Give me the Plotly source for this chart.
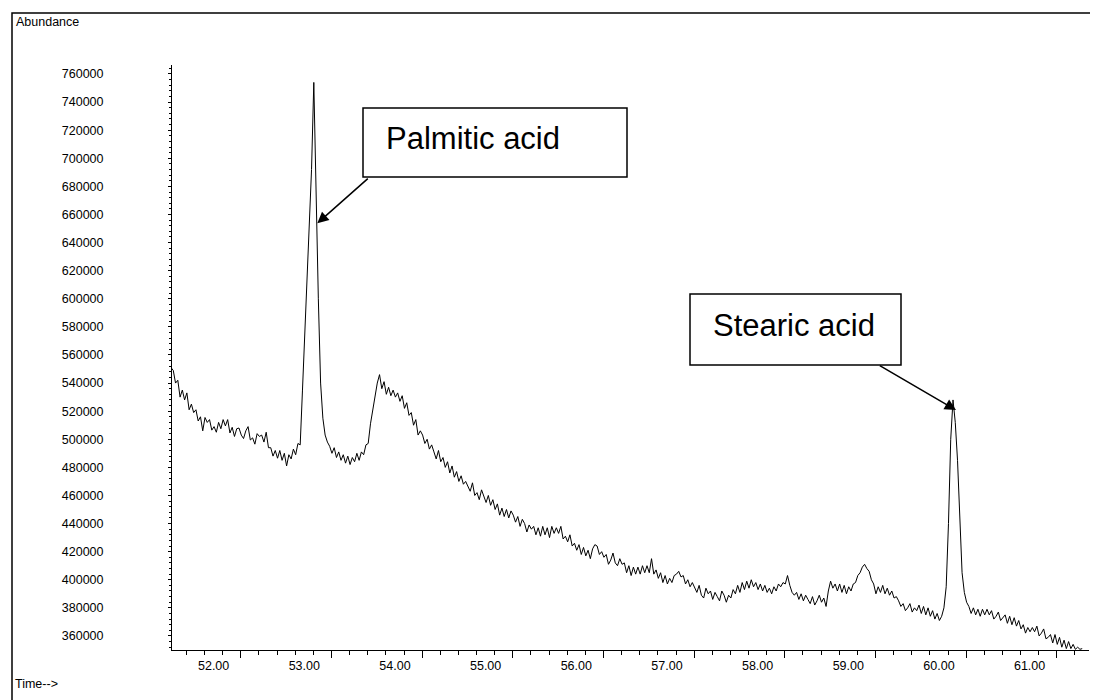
import numpy as np
import plotly.graph_objects as go

# ---------------- data ----------------
scan_start = 51.530      # min
scan_interval = 0.025    # min
abundance = [
    551000, 549000, 540000, 542000, 530000, 535000, 528000, 533000, 521000, 525000,
    519000, 521000, 513000, 516000, 506000, 515500, 512000, 514000, 506500, 509000,
    505000, 512000, 507500, 514000, 509500, 514000, 504500, 508500, 502000, 507500,
    508000, 503000, 500500, 506000, 509000, 499500, 501000, 496500, 504000, 502000,
    503000, 498000, 505000, 494000, 494000, 488000, 492000, 486500, 492000, 485000,
    490000, 481000, 489000, 486000, 493000, 489000, 497000, 496000, 535000, 577000,
    618000, 655000, 692000, 754000, 672000, 600000, 540000, 515000, 503000, 498000,
    495000, 490000, 494000, 487000, 491000, 485000, 489000, 483000, 488000, 482000,
    487000, 484000, 490000, 485000, 491000, 489000, 496000, 497000, 511000, 521000,
    528000, 540000, 546000, 536000, 541000, 532000, 537000, 531000, 535000, 530000,
    533000, 527000, 531000, 522000, 526000, 517000, 519000, 510000, 514000, 503000,
    506000, 503000, 497000, 500000, 493000, 496000, 491000, 486000, 492000, 484000,
    487000, 480000, 484000, 476000, 481000, 473000, 477000, 470000, 474000, 468000,
    470000, 466000, 463000, 469000, 460000, 462000, 457000, 464000, 459000, 455000,
    460000, 453000, 457000, 450000, 454000, 446000, 451000, 445000, 450000, 444000,
    449000, 446000, 441000, 445000, 438000, 443000, 440000, 434000, 439000, 436000,
    438000, 432000, 437000, 431000, 438000, 432000, 437000, 430000, 438000, 433000,
    437000, 433000, 438000, 429000, 431000, 427000, 432000, 424000, 426000, 421000,
    425000, 418000, 423000, 417000, 421000, 415000, 422000, 425000, 424000, 418000,
    420000, 416000, 418000, 411000, 414000, 419000, 412000, 410000, 415000, 411000,
    412000, 405000, 410000, 403000, 409000, 404000, 409000, 404000, 410000, 405000,
    410000, 405000, 415000, 404000, 407000, 401000, 405000, 398000, 403000, 397000,
    401000, 398000, 403000, 404000, 406000, 402000, 403000, 397000, 400000, 395000,
    398000, 395000, 391000, 396000, 389000, 387000, 394000, 390000, 392000, 386000,
    391000, 388000, 385000, 392000, 389000, 384000, 389000, 387000, 393000, 390000,
    396000, 391000, 398000, 393000, 399000, 394000, 400000, 395000, 398000, 393000,
    397000, 392000, 396000, 391000, 394000, 390000, 395000, 392000, 397000, 395000,
    398000, 397000, 403000, 396000, 391000, 389000, 391000, 386000, 390000, 385000,
    389000, 386000, 383000, 388000, 382000, 385000, 389000, 384000, 387000, 381000,
    392000, 399000, 394000, 397000, 392000, 397000, 391000, 396000, 390000, 395000,
    392000, 397000, 398000, 403000, 405000, 409000, 411000, 408000, 406000, 400000,
    397000, 390000, 395000, 391000, 396000, 390000, 394000, 389000, 392000, 387000,
    388000, 385000, 381000, 383000, 378000, 380000, 383000, 377000, 380000, 378000,
    382000, 376000, 381000, 375000, 380000, 374000, 378000, 372000, 376000, 371000,
    374000, 380000, 395000, 440000, 500000, 528000, 512000, 485000, 440000, 405000,
    391000, 384000, 381000, 376000, 380000, 375000, 379000, 374000, 379000, 375000,
    379000, 375000, 378000, 372000, 374000, 377000, 371000, 373000, 375000, 369000,
    374000, 368000, 373000, 367000, 371000, 365000, 368000, 362000, 366000, 363000,
    366000, 363000, 367000, 360000, 362000, 365000, 358000, 359000, 361000, 355000,
    361000, 354000, 359000, 352000, 357000, 351000, 356000, 351000, 354000, 350500,
    352000, 350500, 351000,
]
time_min = np.round(scan_start + scan_interval * np.arange(len(abundance)), 3)

x_labels = [52, 53, 54, 55, 56, 57, 58, 59, 60, 61]
y_labels = list(range(360000, 760001, 20000))

# ---------------- layout geometry ----------------
# the page body adds an 8 px margin, so the figure is 8 px smaller and all
# target screen positions are shifted by -8 px
OFF = 8
W, H = 1098 - OFF, 700 - OFF
L, R, T, B = 172 - OFF, 9, 65 - OFF, 50
PW, PH = W - L - R, H - T - B
x_range = [51.541, 61.655]
y_range = [350000, 766400]

def px(x):
    """screen pixel x -> paper x"""
    return (x - OFF - L) / PW

def py(y):
    """screen pixel y -> paper y"""
    return (H - B - (y - OFF)) / PH

FONT = "Arial, Liberation Sans, Helvetica, sans-serif"

fig = go.Figure()
fig.add_trace(go.Scatter(x=time_min, y=abundance, mode="lines",
                         line=dict(color="black", width=1), hoverinfo="skip",
                         showlegend=False))
fig.add_trace(go.Scatter(x=[], y=[], xaxis="x2", showlegend=False))

minor_x = [v + d for v in range(51, 62) for d in (0.1, 0.5, 0.7, 0.9)]
major_x = [v + 0.3 for v in range(51, 62)]

fig.update_layout(
    width=W, height=H,
    margin=dict(l=L, r=R, t=T, b=B, pad=0),
    paper_bgcolor="white", plot_bgcolor="white",
    font=dict(family=FONT, size=12.5, color="black"),
    showlegend=False,
    xaxis=dict(range=x_range, showgrid=False, zeroline=False,
               showline=True, linecolor="black", linewidth=1,
               tickmode="array", tickvals=x_labels,
               ticktext=[f"{v:.2f}" for v in x_labels],
               ticks="", ticklabelstandoff=4,
               tickfont=dict(size=12.5, family=FONT),
               minor=dict(tickmode="array", tickvals=minor_x, ticks="outside",
                          ticklen=4, tickwidth=1, tickcolor="black")),
    xaxis2=dict(range=x_range, overlaying="x", anchor="y", side="bottom",
                showgrid=False, zeroline=False, showline=False,
                showticklabels=False, tickmode="array", tickvals=major_x,
                ticks="outside", ticklen=7, tickwidth=1, tickcolor="black"),
    yaxis=dict(range=y_range, showgrid=False, zeroline=False,
               showline=True, linecolor="black", linewidth=1,
               tickmode="array", tickvals=y_labels,
               ticktext=[str(v) for v in y_labels],
               ticks="outside", ticklen=3, tickwidth=1, tickcolor="black",
               ticklabelstandoff=62,
               tickfont=dict(size=12.5, family=FONT),
               minor=dict(dtick=4000, tick0=0, ticks="outside", ticklen=2,
                          tickwidth=1, tickcolor="black")),
)

shapes = [
    # outer frame
    dict(type="rect", xref="paper", yref="paper", x0=px(12), x1=px(1104),
         y0=py(706), y1=py(13), line=dict(color="black", width=1.5),
         fillcolor="rgba(0,0,0,0)", layer="above"),
    # label boxes
    dict(type="rect", xref="paper", yref="paper", x0=px(363), x1=px(627),
         y0=py(177), y1=py(108), line=dict(color="black", width=1.5),
         fillcolor="white", layer="above"),
    dict(type="rect", xref="paper", yref="paper", x0=px(690), x1=px(901),
         y0=py(365), y1=py(294), line=dict(color="black", width=1.5),
         fillcolor="white", layer="above"),
]
fig.update_layout(shapes=shapes)

ann = [
    dict(text="Abundance", x=px(14), y=py(22), xref="paper", yref="paper",
         xanchor="left", yanchor="middle", showarrow=False,
         font=dict(size=12.5, family=FONT)),
    dict(text="Time-->", x=px(13), y=py(684), xref="paper", yref="paper",
         xanchor="left", yanchor="middle", showarrow=False,
         font=dict(size=12.5, family=FONT)),
    dict(text="Palmitic acid", x=px(384), y=py(138), xref="paper", yref="paper",
         xanchor="left", yanchor="middle", showarrow=False,
         font=dict(size=31, family=FONT)),
    dict(text="Stearic acid", x=px(711), y=py(325), xref="paper", yref="paper",
         xanchor="left", yanchor="middle", showarrow=False,
         font=dict(size=31, family=FONT)),
    dict(text="", x=px(317.3), y=py(223.3), xref="paper", yref="paper",
         ax=369.3 - 317.3, ay=177.3 - 223.3, axref="pixel", ayref="pixel",
         showarrow=True, arrowhead=2, arrowsize=1.5, arrowwidth=1.5,
         arrowcolor="black", standoff=0, startstandoff=0),
    dict(text="", x=px(956), y=py(410), xref="paper", yref="paper",
         ax=878.3 - 956, ay=364.7 - 410, axref="pixel", ayref="pixel",
         showarrow=True, arrowhead=2, arrowsize=1.5, arrowwidth=1.5,
         arrowcolor="black", standoff=0, startstandoff=0),
]
fig.update_layout(annotations=ann)

fig.write_html("out.html")
